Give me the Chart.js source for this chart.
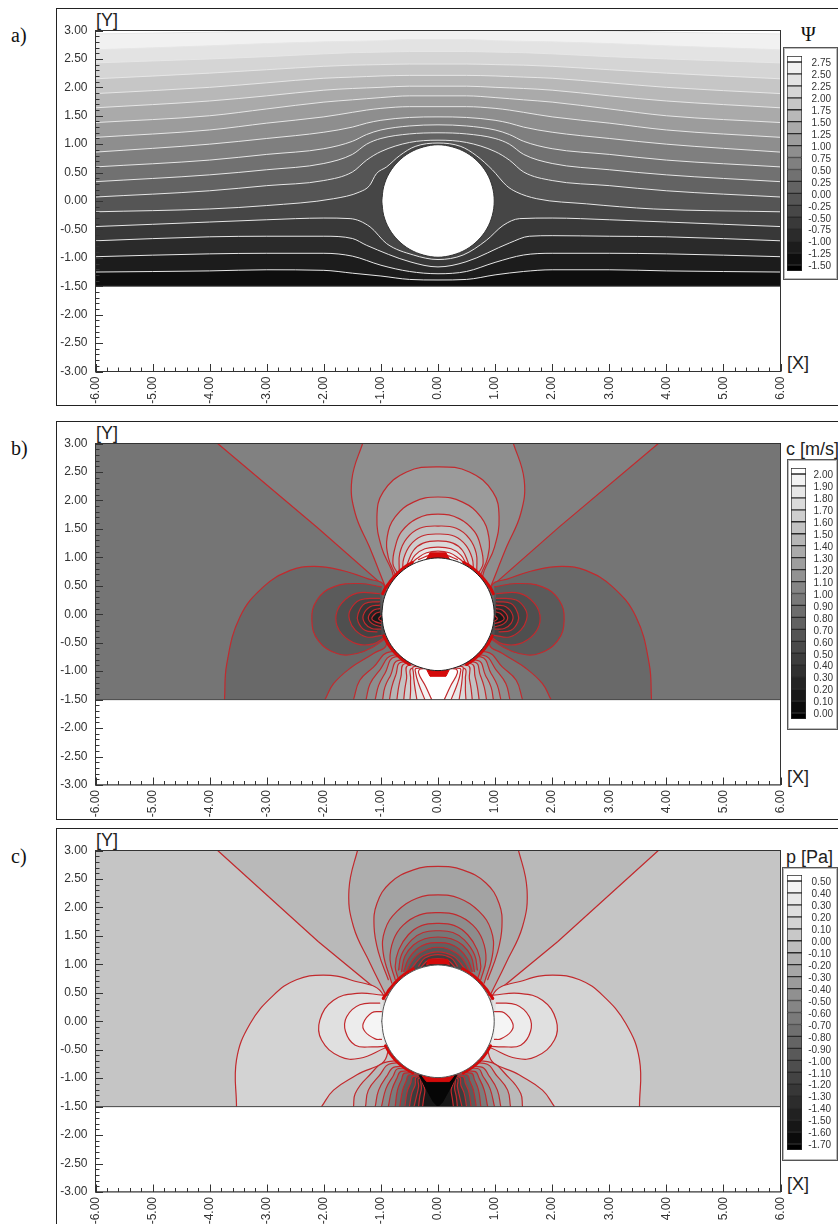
<!DOCTYPE html>
<html><head><meta charset="utf-8">
<script src="https://cdn.jsdelivr.net/npm/chart.js@4"></script>
<style>
html,body{margin:0;padding:0;background:#fff;overflow:hidden;width:838px;height:1224px}
canvas{position:absolute}
.t{position:absolute;white-space:nowrap;line-height:1;color:#222}
.serif{font-family:"Liberation Serif",serif;font-size:20px;color:#111}
.sans{font-family:"Liberation Sans",sans-serif;font-size:18px}
.frame{position:absolute;left:56px;width:800px;border:1px solid #222;box-sizing:border-box}
.box{position:absolute;border:1px solid #555;outline:1px solid #bbb;outline-offset:-2px;box-sizing:border-box;background:#fff}
</style></head><body>
<div class="frame" style="top:8px;height:398px"></div>
<div class="frame" style="top:421px;height:399px"></div>
<div class="frame" style="top:828px;height:420px"></div>
<div class="box" style="left:783px;top:47px;width:55px;height:233px"></div>
<div class="box" style="left:787px;top:459px;width:51px;height:271px"></div>
<div class="box" style="left:782px;top:867px;width:56px;height:294px"></div>
<div class="t serif" style="left:11px;top:25px">a)</div>
<div class="t serif" style="left:11px;top:438px">b)</div>
<div class="t serif" style="left:11px;top:846px">c)</div>
<div class="t serif" style="left:801px;top:24px">Ψ</div>
<div class="t sans" style="left:786px;top:440px">c [m/s]</div>
<div class="t sans" style="left:786px;top:848px">p [Pa]</div>
<div class="t sans" style="left:96px;top:11px">[Y]</div>
<div class="t sans" style="left:787px;top:354px">[X]</div>
<div class="t sans" style="left:96px;top:424px">[Y]</div>
<div class="t sans" style="left:787px;top:768px">[X]</div>
<div class="t sans" style="left:96px;top:831px">[Y]</div>
<div class="t sans" style="left:787px;top:1175px">[X]</div>
<canvas id="pa" style="left:57px;top:10px" width="730" height="395"></canvas>
<canvas id="pb" style="left:57px;top:423px" width="730" height="396"></canvas>
<canvas id="pc" style="left:57px;top:830px" width="730" height="394"></canvas>
<canvas id="la" style="left:787px;top:56px" width="44" height="215"></canvas>
<canvas id="lb" style="left:791px;top:468px" width="42" height="251"></canvas>
<canvas id="lc" style="left:787px;top:875px" width="44" height="275"></canvas>
<script>
// ---------- axes ----------
const xTicks=[-6,-5,-4,-3,-2,-1,0,1,2,3,4,5,6];
const yTicks=[3,2.5,2,1.5,1,.5,0,-.5,-1,-1.5,-2,-2.5,-3];
// ---------- legends ----------
const psiLevels=[2.75,2.5,2.25,2,1.75,1.5,1.25,1,.75,.5,.25,0,-.25,-.5,-.75,-1,-1.25,-1.5];
const psiCells=[255,241,227,213,198,184,170,156,142,128,113,99,85,71,57,43,28,14,0];
const cLevels=[2,1.9,1.8,1.7,1.6,1.5,1.4,1.3,1.2,1.1,1,.9,.8,.7,.6,.5,.4,.3,.2,.1,0];
const cCells=[255,243,231,219,206,194,182,170,158,146,133,121,109,97,85,73,61,49,36,24,12,0];
const pLevels=[.5,.4,.3,.2,.1,0,-.1,-.2,-.3,-.4,-.5,-.6,-.7,-.8,-.9,-1,-1.1,-1.2,-1.3,-1.4,-1.5,-1.6,-1.7];
const pCells=[255,244,233,222,211,200,189,177,166,155,144,133,122,111,100,89,78,67,55,44,33,22,11,0];
// ---------- panel a: streamlines ----------
const psiX=[-6,-4,-3,-2,-1.5,-1.25,-1,-.5,0,.5,1,1.25,1.5,2,3,4,6];
const psi275=[[-6,2.94],[-4,2.97],[-3,2.99],[-2,3.01],[2,3.01],[3,2.99],[4,2.97],[6,2.94]];
const psi250=[2.66,2.73,2.77,2.80,2.81,2.815,2.82,2.84,2.84,2.84,2.82,2.815,2.81,2.80,2.77,2.73,2.66];
const psi225=[2.43,2.50,2.54,2.59,2.61,2.615,2.62,2.63,2.63,2.63,2.62,2.615,2.61,2.59,2.54,2.50,2.43];
const psi200=[2.15,2.25,2.31,2.37,2.39,2.395,2.40,2.41,2.41,2.41,2.40,2.395,2.39,2.37,2.31,2.25,2.15];
const psi175=[1.89,2.00,2.08,2.16,2.18,2.19,2.20,2.21,2.21,2.21,2.20,2.19,2.18,2.16,2.08,2.00,1.89];
const psi150=[1.64,1.76,1.85,1.95,1.98,1.99,2.00,2.02,2.02,2.02,2.00,1.99,1.98,1.95,1.85,1.76,1.64];
const psi125=[1.38,1.50,1.62,1.74,1.78,1.80,1.82,1.85,1.85,1.85,1.82,1.80,1.78,1.74,1.62,1.50,1.38];
const psi100=[1.12,1.25,1.37,1.48,1.56,1.60,1.63,1.66,1.66,1.66,1.63,1.60,1.56,1.48,1.37,1.25,1.12];
const psi075=[.86,1.00,1.10,1.21,1.30,1.37,1.42,1.47,1.48,1.47,1.42,1.37,1.30,1.21,1.10,1.00,.86];
const psi050=[.60,.72,.82,.92,1.05,1.17,1.25,1.32,1.34,1.32,1.25,1.17,1.05,.92,.82,.72,.60];
const psi025=[.34,.46,.55,.66,.82,1.00,1.10,1.18,1.20,1.18,1.10,1.00,.82,.66,.55,.46,.34];
const psi000=[.07,.18,.27,.36,.51,.72,.87,1.03,1.07,1.03,.87,.72,.51,.36,.27,.18,.07];
const psiM025=[[-6,-.19],[-4,-.14],[-3,-.08],[-1.83,.04],[-1.37,.16],[-1.2,.27],[-1.08,.48],[-.9,.6],[-.67,.8],[-.4,.96],[0,1.02],[.4,.96],[.67,.8],[.95,.55],[1.2,.27],[1.37,.16],[1.73,.04],[2.6,-.05],[3.77,-.14],[6,-.19]];
const psiM050=[[-6,-.45],[-4,-.37],[-3,-.33],[-2,-.30],[-1.54,-.31],[-1.19,-.455],[-.9,-.75],[-.43,-.95],[0,-1.03],[.44,-.95],[.85,-.69],[1.14,-.43],[1.43,-.31],[2,-.30],[3,-.33],[4,-.37],[6,-.45]];
const psiM075=[[-6,-.70],[-4,-.63],[-3,-.62],[-2,-.62],[-1.5,-.66],[-1.25,-.78],[-.49,-1.07],[0,-1.16],[.49,-1.07],[1.25,-.74],[1.6,-.62],[2,-.61],[3,-.62],[4,-.63],[6,-.70]];
const psiM100=[[-6,-.98],[-4,-.93],[-3,-.92],[-2,-.92],[-1.5,-.97],[-1,-1.13],[-.5,-1.24],[0,-1.28],[.5,-1.24],[1,-1.08],[1.5,-.95],[2,-.92],[3,-.92],[4,-.93],[6,-.98]];
const psiM125=[[-6,-1.25],[-4,-1.23],[-3,-1.21],[-2,-1.22],[-1.5,-1.27],[-1,-1.32],[-.5,-1.38],[0,-1.39],[.5,-1.38],[1,-1.30],[1.5,-1.24],[2,-1.21],[3,-1.21],[4,-1.23],[6,-1.25]];
const circle=[[-.985,0],[-.951,.255],[-.853,.493],[-.696,.696],[-.493,.853],[-.255,.951],[0,.99],[.255,.951],[.493,.853],[.696,.696],[.853,.493],[.951,.255],[.985,0],[.951,-.255],[.853,-.493],[.696,-.696],[.493,-.853],[.255,-.951],[0,-.99],[-.255,-.951],[-.493,-.853],[-.696,-.696],[-.853,-.493],[-.951,-.255],[-.985,0]];
const floorLine=[[-6,-1.5],[6,-1.5]];
const belowFloor=[[-6,-1.5],[6,-1.5],[6,-3],[-6,-3]];
const wholeField=[[-6,-1.5],[6,-1.5],[6,3],[-6,3]];
// ---------- panel b: speed contours (left halves; the field is mirror-symmetric) ----------
const cWedge=[[-3.86,3],[-2.12,1.53],[-.93,.48]];
const cT1=[[-.93,.5],[-1.2,1.18],[-1.45,1.77],[-1.51,2.36],[-1.32,3],[-1.2,3.3]];
const cT2=[[-.78,.66],[-.81,.77],[-.99,1.18],[-1.07,1.71],[-.96,2.15],[-.55,2.5],[0,2.59]];
const cT3=[[-.76,.72],[-.87,1],[-.89,1.36],[-.75,1.71],[-.43,1.97],[0,2.06]];
const cT4=[[-.72,.74],[-.79,.89],[-.75,1.18],[-.64,1.45],[-.37,1.68],[0,1.76]];
const cT5=[[-.68,.78],[-.67,1.07],[-.55,1.33],[-.32,1.51],[0,1.55]];
const cT6=[[-.62,.8],[-.6,.98],[-.49,1.21],[-.29,1.37],[0,1.41]];
const cT7=[[-.54,.88],[-.43,1.12],[-.26,1.25],[0,1.29]];
const cT8=[[-.49,.89],[-.4,1.04],[-.23,1.15],[0,1.18]];
const cT9=[[-.46,.9],[-.37,.98],[-.2,1.08],[0,1.11]];
const cT10=[[-.34,.96],[-.14,1.04],[0,1.05]];
const cS0=[[-3.74,-1.5],[-3.7,-.87],[-3.47,-.05],[-3.06,.48],[-2.59,.77],[-2.18,.84],[-1.72,.78],[-1.25,.63],[-.93,.48],[-.9,-.52],[-1.13,-.69],[-1.54,-.95],[-1.83,-1.22],[-1.98,-1.5]];
const cS1=[[-.99,.48],[-1.37,.54],[-1.83,.48],[-2.12,.25],[-2.21,-.1],[-2.1,-.46],[-1.77,-.69],[-1.42,-.69],[-1.13,-.57],[-.93,-.43]];
const cS2=[[-1.02,.36],[-1.42,.37],[-1.69,.19],[-1.79,-.08],[-1.69,-.34],[-1.42,-.52],[-1.13,-.52],[-.93,-.4]];
const cS3=[[-1.02,.28],[-1.37,.25],[-1.54,.07],[-1.55,-.1],[-1.45,-.28],[-1.25,-.4],[-.99,-.37]];
const cS4=[[-1.02,.22],[-1.28,.19],[-1.4,.01],[-1.4,-.13],[-1.28,-.28],[-1.07,-.31]];
const cS5=[[-1.02,.16],[-1.19,.13],[-1.31,-.02],[-1.28,-.16],[-1.16,-.25],[-1,-.26]];
const cS6=[[-1.02,.1],[-1.13,.07],[-1.22,-.05],[-1.16,-.16],[-1,-.22]];
const cS7=[[-1.02,.04],[-1.1,.01],[-1.16,-.08],[-1.1,-.13],[-1,-.16]];
const cS8=[[-.99,-.02],[-1.04,-.08],[-.99,-.12]];
const cB1=[[-1.48,-1.5],[-1.37,-1.16],[-1.13,-.93],[-.84,-.66]];
const cB2=[[-1.26,-1.5],[-1.19,-1.22],[-1.02,-.98],[-.79,-.72]];
const cB3=[[-1.1,-1.5],[-1.04,-1.25],[-.93,-1.04],[-.75,-.75]];
const cB4=[[-.97,-1.5],[-.93,-1.28],[-.83,-1.07],[-.69,-.81]];
const cB5=[[-.85,-1.5],[-.81,-1.28],[-.74,-1.07],[-.64,-.84]];
const cB6=[[-.72,-1.5],[-.69,-1.28],[-.65,-1.1],[-.58,-.87]];
const cB7=[[-.6,-1.5],[-.58,-1.31],[-.55,-1.13],[-.52,-.9]];
const cB8=[[-.49,-1.5],[-.48,-1.34],[-.48,-1.13],[-.46,-.95]];
const cB9=[[-.37,-1.5],[-.41,-1.25],[-.43,-1.04],[-.42,-.92]];
const cB10=[[-.23,-1.5],[-.34,-1.22],[-.39,-1.04],[-.38,-.95]];
const cB11=[[-.11,-1.5],[-.22,-1.26],[-.34,-1.03],[-.3,-.96]];
const cTopBlob=[[-.2,.97],[-.14,1.08],[0,1.08]];
const cBottomBlob=[[-.2,-.97],[-.14,-1.09],[0,-1.09]];
const cRedUpper=[[-.97,.36],[-.92,.46],[-.84,.57],[-.72,.71],[-.58,.83],[-.45,.91]];
const cRedLower=[[-.95,-.38],[-.87,-.53],[-.76,-.67],[-.62,-.8],[-.5,-.88]];
// ---------- panel c: pressure contours (left halves) ----------
const pWedge=[[-3.86,3],[-2.1,1.4],[-.96,.46]];
const pT1=[[-.93,.49],[-1.19,1.02],[-1.48,1.66],[-1.56,2.31],[-1.41,3],[-1.3,3.3]];
const pT2=[[-.87,.73],[-1.04,1.2],[-1.12,1.66],[-1.07,2.07],[-.84,2.43],[-.43,2.66],[0,2.72]];
const pT3=[[-.81,.67],[-.96,1.2],[-.93,1.6],[-.72,1.93],[-.37,2.16],[0,2.22]];
const pT4=[[-.75,.73],[-.84,1.08],[-.78,1.43],[-.61,1.69],[-.32,1.87],[0,1.91]];
const pT5=[[-.69,.73],[-.75,.96],[-.69,1.25],[-.52,1.52],[-.29,1.68],[0,1.72]];
const pT6=[[-.69,.9],[-.64,1.17],[-.46,1.43],[-.26,1.56],[0,1.59]];
const pT7=[[-.64,.87],[-.58,1.14],[-.43,1.34],[-.23,1.45],[0,1.48]];
const pT8=[[-.6,.87],[-.52,1.09],[-.37,1.27],[-.2,1.36],[0,1.38]];
const pT9=[[-.55,.87],[-.46,1.05],[-.32,1.2],[0,1.3]];
const pT10=[[-.49,.89],[-.4,1.01],[-.26,1.15],[0,1.22]];
const pT11=[[-.34,.97],[-.23,1.11],[0,1.17]];
const pT12=[[-.29,.96],[-.17,1.07],[0,1.1]];
const pT13=[[-.2,.99],[-.1,1.03],[0,1.05]];
const pS0=[[-3.53,-1.5],[-3.53,-.68],[-3.29,-.04],[-2.88,.46],[-2.48,.73],[-2.01,.81],[-1.54,.73],[-.96,.46],[-.9,-.62],[-1.42,-.94],[-1.83,-1.21],[-2.04,-1.5]];
const pS1=[[-.97,.46],[-1.42,.49],[-1.83,.37],[-2.07,.02],[-2.04,-.33],[-1.72,-.62],[-1.37,-.65],[-.93,-.47]];
const pS2=[[-1.02,.32],[-1.37,.29],[-1.6,.08],[-1.62,-.18],[-1.45,-.42],[-1.13,-.45],[-.93,-.44]];
const pS3=[[-.99,.17],[-1.16,.15],[-1.31,-.04],[-1.28,-.18],[-1.1,-.31],[-.99,-.32]];
const pB1=[[-1.48,-1.5],[-1.45,-1.27],[-1.25,-1],[-.87,-.71]];
const pB2=[[-1.27,-1.5],[-1.22,-1.21],[-1.04,-.97],[-.81,-.74]];
const pB3=[[-1.1,-1.5],[-1.04,-1.21],[-.9,-.97],[-.75,-.8]];
const pB4=[[-.99,-1.5],[-.91,-1.18],[-.79,-.97],[-.69,-.83]];
const pB5=[[-.87,-1.5],[-.81,-1.21],[-.72,-1],[-.64,-.88]];
const pB6=[[-.75,-1.5],[-.71,-1.21],[-.64,-1.03],[-.58,-.91]];
const pB7=[[-.67,-1.5],[-.62,-1.21],[-.56,-1.06],[-.5,-.94]];
const pB8=[[-.58,-1.5],[-.54,-1.24],[-.48,-1.09],[-.43,-.97]];
const pB9=[[-.5,-1.5],[-.46,-1.27],[-.4,-1.12],[-.37,-.98]];
const pB10=[[-.42,-1.5],[-.37,-1.29],[-.34,-1.15],[-.33,-1]];
const pB11=[[-.34,-1.5],[-.32,-1.32],[-.29,-1.18],[-.28,-1]];
const pB12=[[-.27,-1.5],[-.25,-1.35],[-.23,-1.21],[-.26,-1.03]];
const pBlack=[[-.33,-.95],[-.2,-1.2],[-.08,-1.42],[0,-1.5]];
const pTopBlob=[[-.2,1],[-.17,1.09],[0,1.09]];
const pBottomBlob=[[-.28,-.96],[-.2,-1.06],[0,-1.06]];
const pRedUpper=[[-.96,.4],[-.91,.47],[-.84,.57],[-.72,.71],[-.58,.83],[-.43,.92]];
const pRedLower=[[-.92,-.43],[-.85,-.55],[-.74,-.69],[-.6,-.81],[-.44,-.91]];

// ---------- helpers ----------
const gray=g=>`rgb(${g},${g},${g})`;
const mirror=h=>h.concat(h.slice().reverse().filter(p=>p[0]!==0).map(p=>[-p[0],p[1]]));
const flip=h=>h.map(p=>[-p[0],p[1]]);
const zip=(xs,ys)=>xs.map((x,i)=>[x,ys[i]]);
const shape=(pts,fill,line,width=1.2,tension=.42,fillMode='shape')=>({
  data:pts.map(p=>({x:p[0],y:p[1]})),showLine:true,pointRadius:0,borderCapStyle:'round',
  borderColor:line||'rgba(0,0,0,0)',borderWidth:line?width:0,
  backgroundColor:fill||'rgba(0,0,0,0)',fill:fill?fillMode:false,tension});
const smooth=d=>Object.assign(d,{cubicInterpolationMode:'monotone'});
const RED='#c22a2e', THICK='#d40a0a', EDGE='#444';

const axisMarks={id:'axisMarks',afterDatasetsDraw(ch){
  const {ctx,chartArea:a,scales:{x,y}}=ch;
  ctx.save();ctx.strokeStyle='#333';ctx.lineWidth=1;
  ctx.strokeRect(a.left,a.top,a.right-a.left,a.bottom-a.top);
  ctx.beginPath();
  for(let i=0;i<=60;i++){const px=Math.round(x.getPixelForValue(-6+i*.2))+.5,len=i%5?4:7.5;
    ctx.moveTo(px,a.bottom);ctx.lineTo(px,a.bottom-len);}
  for(let i=0;i<=60;i++){const py=Math.round(y.getPixelForValue(-3+i*.1))+.5,len=i%5?4:7.5;
    ctx.moveTo(a.left,py);ctx.lineTo(a.left+len,py);}
  ctx.stroke();ctx.restore();
}};

function panel(id,datasets,padTop,xHeight){
  datasets.forEach((d,i)=>d.order=datasets.length-i);
  new Chart(document.getElementById(id),{type:'scatter',data:{datasets},plugins:[axisMarks],options:{
    responsive:false,animation:false,devicePixelRatio:1,
    layout:{padding:{top:padTop,right:6.5,left:0,bottom:0}},
    plugins:{legend:{display:false},tooltip:{enabled:false}},
    scales:{
      x:{type:'linear',min:-6,max:6,grid:{display:false,drawTicks:false},border:{display:false},
        afterBuildTicks(s){s.ticks=xTicks.map(v=>({value:v}))},afterFit(s){s.height=xHeight;s.paddingLeft=0;s.paddingRight=0},
        ticks:{autoSkip:false,minRotation:90,maxRotation:90,padding:5,color:'#333',font:{family:'"Liberation Sans"',size:12},callback:v=>v.toFixed(2)}},
      y:{type:'linear',min:-3,max:3,grid:{display:false,drawTicks:false},border:{display:false},
        afterBuildTicks(s){s.ticks=yTicks.map(v=>({value:v}))},afterFit(s){s.width=38.5;s.paddingTop=0;s.paddingBottom=0},
        ticks:{autoSkip:false,padding:8,color:'#333',font:{family:'"Liberation Sans"',size:12},callback:v=>v.toFixed(2)}}
    }}});
}
function legend(id,levels,cells,axisWidth,step){
  const top=levels[0]+step/2,bot=levels[levels.length-1]-step/2;
  const edges=[top].concat(levels,[bot]);
  const datasets=cells.map((g,i)=>({data:[[edges[i+1],edges[i]]],backgroundColor:gray(g),borderColor:'#2a2a2a',borderWidth:1,borderSkipped:false,
    grouped:false,barPercentage:1,categoryPercentage:1}));
  new Chart(document.getElementById(id),{type:'bar',data:{labels:[''],datasets},options:{
    responsive:false,animation:false,devicePixelRatio:1,
    layout:{padding:0},
    plugins:{legend:{display:false},tooltip:{enabled:false}},
    scales:{x:{display:false},
      y:{position:'right',min:bot,max:top,grid:{display:false,drawTicks:false},border:{display:false},
        afterBuildTicks(s){s.ticks=levels.map(v=>({value:v}))},afterFit(s){s.width=axisWidth;s.paddingTop=0;s.paddingBottom=0},
        ticks:{autoSkip:false,padding:0,crossAlign:'far',labelOffset:1.5,color:'#333',font:{family:'"Liberation Sans"',size:10},callback:v=>v.toFixed(2)}}}}});
}

// ---------- panel a ----------
const WL='#e6e6e6';
const psiLines=[psiM125,psiM100,psiM075,psiM050,psiM025];
const psiUpper=[psi000,psi025,psi050,psi075,psi100,psi125,psi150,psi175,psi200,psi225,psi250];
let dsA=[shape(floorLine,gray(14),null,1,0,'end')];
psiLines.forEach((l,i)=>dsA.push(smooth(shape(l,gray(28+Math.round(14.15*i)),WL,1,.3,'end'))));
psiUpper.forEach((l,i)=>dsA.push(smooth(shape(zip(psiX,l),gray(99+Math.round(14.2*i)),WL,1,.3,'end'))));
dsA.push(smooth(shape(psi275,gray(255),WL,1,.3,'end')));
dsA.push(shape(belowFloor,'#fff',EDGE,1,0));
dsA.push(shape(circle,'#fff','#333',1,.35));
panel('pa',dsA,20.5,33.5);
legend('la',psiLevels,psiCells,29,.25);

// ---------- panel b ----------
function side(list,grays,line){const out=[];
  list.forEach((l,i)=>{out.push(shape(l,gray(grays[i]),line));out.push(shape(flip(l),gray(grays[i]),line));});return out;}
function nested(list,grays,line){return list.map((l,i)=>shape(mirror(l),gray(grays[i]),line));}
let dsB=[shape(wholeField,gray(117),null,1,0),
  shape(mirror(cWedge),gray(129),RED,1.2,0),
  ...nested([cT1,cT2,cT3,cT4,cT5,cT6,cT7,cT8,cT9,cT10],[142,155,168,181,194,206,218,231,243,252],RED),
  ...side([cS0,cS1,cS2,cS3,cS4,cS5,cS6,cS7,cS8],[105,91,79,67,55,45,34,24,12],RED),
  ...nested([cB1,cB2,cB3,cB4,cB5,cB6,cB7,cB8,cB9,cB10,cB11],[129,142,155,168,181,194,206,218,231,243,255],RED),
  shape(belowFloor,'#fff',EDGE,1,0),
  shape(mirror(cTopBlob),THICK,THICK,1,0),
  shape(mirror(cBottomBlob),THICK,THICK,1,0),
  shape(cRedUpper,null,THICK,3),shape(flip(cRedUpper),null,THICK,3),
  shape(cRedLower,null,THICK,3),shape(flip(cRedLower),null,THICK,3),
  shape(circle,'#fff','#222',1,.35)];
panel('pb',dsB,20.5,34);
legend('lb',cLevels,cCells,27,.1);

// ---------- panel c ----------
let dsC=[shape(wholeField,gray(197),null,1,0),
  shape(mirror(pWedge),gray(185),RED,1.2,0),
  ...nested([pT1,pT2,pT3,pT4,pT5,pT6,pT7,pT8,pT9,pT10,pT11,pT12,pT13],[174,163,152,141,130,119,108,97,86,75,64,52,40],RED),
  ...side([pS0,pS1,pS2,pS3],[211,224,236,245],RED),
  ...nested([pB1,pB2,pB3,pB4,pB5,pB6,pB7,pB8,pB9,pB10,pB11,pB12],[185,170,155,140,124,108,92,76,60,48,36,24],RED),
  shape(mirror(pBlack),gray(6),gray(6),1,0),
  shape(belowFloor,'#fff',EDGE,1,0),
  shape(mirror(pTopBlob),THICK,THICK,1,0),
  shape(mirror(pBottomBlob),THICK,THICK,1,0),
  shape(pRedUpper,null,THICK,3),shape(flip(pRedUpper),null,THICK,3),
  shape(pRedLower,null,THICK,3),shape(flip(pRedLower),null,THICK,3),
  shape(circle,'#fff','#555',1,.35)];
panel('pc',dsC,20.5,32);
legend('lc',pLevels,pCells,29,.1);
</script>
</body></html>
